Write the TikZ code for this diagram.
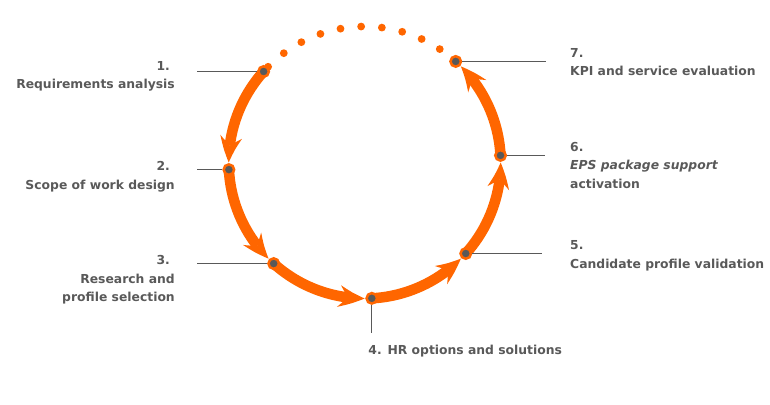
\documentclass[tikz,border=0pt]{standalone}
\usepackage{fontspec}
\setmainfont{DejaVu Sans}
\usetikzlibrary{arrows.meta,bending}
\definecolor{hrorange}{HTML}{FF6600}
\definecolor{hrgray}{HTML}{595959}
\tikzset{
  stage/.style={circle, fill=hrgray, draw=hrorange, line width=2.5bp, minimum size=10.5bp, inner sep=0pt},
  flow/.style={draw=hrorange, line width=10.5bp, -{Stealth[length=26bp, width=22bp, inset=9bp, line width=0pt, bend]}},
  leader/.style={draw=hrgray, line width=0.8bp},
  lbl/.style={text=hrgray, font=\fontsize{12.4}{18.5}\selectfont\bfseries, inner sep=0pt},
}
\begin{document}
\begin{tikzpicture}[x=1bp,y=1bp]
\useasboundingbox (-364.7,-241.5) rectangle (405.3,162.5);
\pgfmathsetmacro\rad{136}
% stage positions on the ring
\foreach \n in {1,...,7} \coordinate (p\n) at ({138+45*(\n-1)}:\rad);
% dotted part of the ring
\foreach \n in {0,...,9} \fill[hrorange] ({56.5+8.75*\n}:\rad) circle (3.9);
% arrows between stages
\foreach \n in {1,...,6} \draw[flow] (p\n) arc[start angle={138+45*(\n-1)}, delta angle=42, radius=\rad];
% stage dots
\foreach \n in {1,...,7} \node[stage] (n\n) at (p\n) {};
% leader lines
\coordinate (e1) at (p1 -| -167.7,0);
\coordinate (e2) at (p2 -| -167.7,0);
\coordinate (e3) at (p3 -| -167.7,0);
\coordinate (e4) at (p4 |- 0,-170.5);
\coordinate (e5) at (p5 -| 177.3,0);
\coordinate (e6) at (p6 -| 179.8,0);
\coordinate (e7) at (p7 -| 181.3,0);
\foreach \n in {1,...,7} \draw[leader] (n\n) -- (e\n);
% labels
\node[lbl, anchor=base east, align=right] (t1) at (-189.7,74) {1.\hspace*{5bp}\\Requirements analysis};
\node[lbl, anchor=base east, align=right] (t2) at (-189.7,-26.5) {2.\hspace*{5bp}\\Scope of work design};
\node[lbl, anchor=base east, align=right] (t3) at (-189.7,-139) {3.\hspace*{5bp}\\Research and\\profile selection};
\node[lbl, anchor=base west] (t4) at (3.6,-192) {4. HR options and solutions};
\node[lbl, anchor=base west, align=left] (t5) at (205.3,-105.5) {5.\\Candidate profile validation};
\node[lbl, anchor=base west, align=left] (t6) at (205.3,-25.5) {6.\\\textit{EPS package support}\\activation};
\node[lbl, anchor=base west, align=left] (t7) at (205.3,87) {7.\\KPI and service evaluation};
\end{tikzpicture}
\end{document}
